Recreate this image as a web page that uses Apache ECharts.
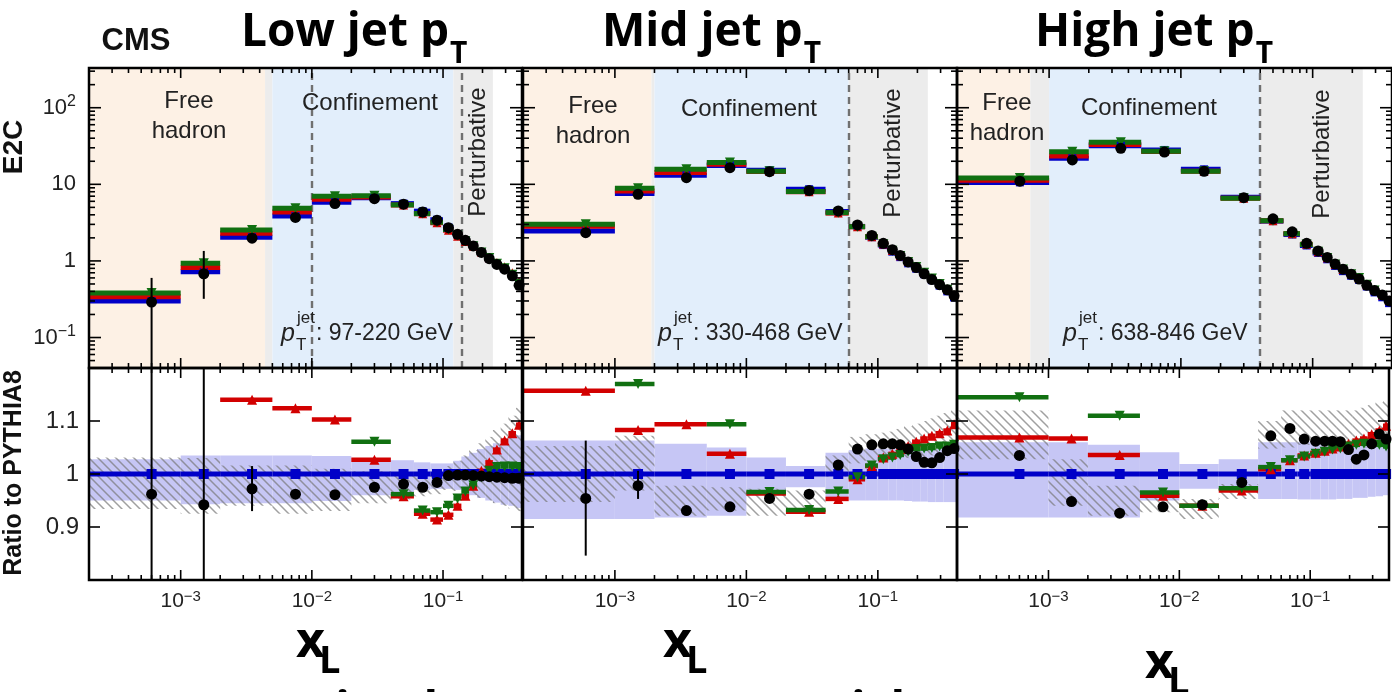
<!DOCTYPE html>
<html>
<head>
<meta charset="utf-8">
<script src="https://cdn.jsdelivr.net/npm/echarts@6.0.0/dist/echarts.min.js"></script>
<style>
html,body{margin:0;padding:0;background:#fff;}
#chart{width:1392px;height:692px;}
</style>
</head>
<body>
<div id="chart"></div>
<script>
// bin edges in x_L, shared by the three jet pT panels
var binEdges = [0.0002, 0.001, 0.002, 0.005, 0.01, 0.02, 0.04, 0.06, 0.08, 0.1, 0.12, 0.138, 0.158, 0.182, 0.21, 0.24, 0.275, 0.315, 0.36, 0.4];

// tick positions
var xMajorTicks = [0.001, 0.01, 0.1];
var xMinorTicks = [0.0003, 0.0004, 0.0005, 0.0006, 0.0007, 0.0008, 0.0009,
                   0.002, 0.003, 0.004, 0.005, 0.006, 0.007, 0.008, 0.009,
                   0.02, 0.03, 0.04, 0.05, 0.06, 0.07, 0.08, 0.09, 0.2, 0.3];
var yMajorTicks = [0.1, 1, 10, 100];
var yMinorTicks = [0.05, 0.06, 0.07, 0.08, 0.09, 0.2, 0.3, 0.4, 0.5, 0.6, 0.7, 0.8, 0.9,
                   2, 3, 4, 5, 6, 7, 8, 9, 20, 30, 40, 50, 60, 70, 80, 90, 200, 300];
var ratioTicks = [0.9, 1, 1.1];

// ---- Low jet pT (97-220 GeV)
var p1Data   = [0.29, 0.68, 1.98, 3.7, 5.6, 6.5, 5.5, 4.35, 3.4, 2.72, 2.23, 1.86, 1.57, 1.29, 1.07, 0.9, 0.78, 0.64, 0.48];
var p1Pythia = [0.30, 0.72, 2.04, 3.85, 5.83, 6.67, 5.6, 4.46, 3.45, 2.73, 2.24, 1.87, 1.58, 1.3, 1.08, 0.91, 0.79, 0.65, 0.49];
var p1Herwig = [0.34, 0.82, 2.3, 4.35, 6.4, 6.85, 5.37, 4.13, 3.15, 2.52, 2.1, 1.79, 1.55, 1.31, 1.1, 0.95, 0.84, 0.7, 0.54];
var p1Sherpa = [0.38, 0.93, 2.54, 4.86, 6.97, 7.1, 5.39, 4.15, 3.2, 2.57, 2.14, 1.81, 1.55, 1.29, 1.09, 0.92, 0.8, 0.66, 0.5];
var p1TopErrLo = [0.02, 0.32, null, null, null, null, null, null, null, null, null, null, null, null, null, null, null, null, null];
var p1TopErrHi = [0.6, 1.35, null, null, null, null, null, null, null, null, null, null, null, null, null, null, null, null, null];
var p1RatioData   = [0.962, 0.942, 0.972, 0.962, 0.961, 0.975, 0.981, 0.975, 0.984, 0.997, 0.998, 0.998, 0.997, 0.996, 0.995, 0.994, 0.993, 0.992, 0.992];
var p1RatioHerwig = [null, null, 1.140, 1.124, 1.103, 1.027, 0.958, 0.925, 0.914, 0.923, 0.940, 0.959, 0.978, 1.006, 1.022, 1.046, 1.063, 1.077, 1.093];
var p1RatioSherpa = [null, null, null, null, null, 1.061, 0.962, 0.931, 0.928, 0.940, 0.954, 0.967, 0.979, 0.994, 1.006, 1.013, 1.014, 1.014, 1.013];
var p1RatioErrLo = [0.7, 0.7, 0.93, null, null, null, null, null, null, null, null, null, null, null, null, null, null, null, null];
var p1RatioErrHi = [1.3, 1.3, 1.015, null, null, null, null, null, null, null, null, null, null, null, null, null, null, null, null];
var p1BandLo  = [0.950, 0.943, 0.945, 0.945, 0.949, 0.960, 0.966, 0.970, 0.972, 0.972, 0.970, 0.965, 0.960, 0.955, 0.950, 0.946, 0.942, 0.940, 0.936];
var p1BandHi  = [1.028, 1.035, 1.035, 1.035, 1.034, 1.030, 1.026, 1.022, 1.020, 1.020, 1.025, 1.033, 1.040, 1.047, 1.053, 1.058, 1.063, 1.068, 1.073];
var p1HatchLo = [0.934, 0.925, 0.940, 0.925, 0.930, 0.945, 0.952, 0.958, 0.962, 0.970, 0.968, 0.964, 0.960, 0.955, 0.950, 0.945, 0.940, 0.935, 0.930];
var p1HatchHi = [1.031, 1.030, 1.016, 1.016, 1.010, 1.005, 1.003, 1.002, 1.006, 1.015, 1.025, 1.035, 1.045, 1.058, 1.070, 1.083, 1.095, 1.110, 1.125];

// ---- Mid jet pT (330-468 GeV)
var p2Data   = [2.34, 7.4, 12.2, 16.5, 14.6, 8.3, 4.5, 2.95, 2.15, 1.7, 1.4, 1.18, 0.97, 0.82, 0.68, 0.57, 0.49, 0.42, 0.35];
var p2Pythia = [2.45, 7.57, 13.1, 17.6, 15.3, 8.63, 4.42, 2.82, 2.04, 1.61, 1.32, 1.12, 0.93, 0.79, 0.67, 0.56, 0.475, 0.40, 0.334];
var p2Herwig = [2.83, 8.2, 14.3, 18.3, 14.7, 8.02, 4.21, 2.79, 2.07, 1.66, 1.37, 1.17, 0.98, 0.84, 0.71, 0.6, 0.51, 0.43, 0.365];
var p2Sherpa = [3.01, 8.86, 15.7, 19.2, 14.8, 8.04, 4.27, 2.8, 2.07, 1.65, 1.36, 1.16, 0.97, 0.83, 0.7, 0.59, 0.5, 0.42, 0.35];
var p2TopErrLo = [null, null, null, null, null, null, null, null, null, null, null, null, null, null, null, null, null, null, null];
var p2TopErrHi = [null, null, null, null, null, null, null, null, null, null, null, null, null, null, null, null, null, null, null];
var p2RatioData   = [0.954, 0.978, 0.931, 0.938, 0.954, 0.962, 1.017, 1.047, 1.055, 1.057, 1.057, 1.055, 1.047, 1.033, 1.022, 1.021, 1.031, 1.044, 1.048];
var p2RatioHerwig = [1.157, 1.083, 1.094, 1.038, 0.963, 0.929, 0.953, 0.990, 1.015, 1.031, 1.038, 1.047, 1.053, 1.061, 1.067, 1.072, 1.077, 1.082, 1.094];
var p2RatioSherpa = [null, 1.170, null, 1.094, 0.966, 0.932, 0.967, 0.994, 1.016, 1.028, 1.031, 1.036, 1.042, 1.047, 1.048, 1.049, 1.052, 1.052, 1.055];
var p2RatioErrLo = [0.846, 0.953, null, null, null, null, null, null, null, null, null, null, null, null, null, null, null, null, null];
var p2RatioErrHi = [1.063, 1.006, null, null, null, null, null, null, null, null, null, null, null, null, null, null, null, null, null];
var p2BandLo  = [0.915, 0.915, 0.918, 0.921, 0.960, 0.975, 0.955, 0.950, 0.950, 0.950, 0.950, 0.950, 0.949, 0.948, 0.948, 0.947, 0.947, 0.947, 0.947];
var p2BandHi  = [1.063, 1.063, 1.057, 1.050, 1.031, 1.015, 1.040, 1.045, 1.048, 1.048, 1.048, 1.048, 1.048, 1.048, 1.048, 1.048, 1.048, 1.048, 1.048];
var p2HatchLo = [0.947, 0.969, 0.921, 0.931, 0.921, 0.928, 0.995, 1.020, 1.025, 1.028, 1.030, 1.030, 1.030, 1.030, 1.030, 1.035, 1.040, 1.045, 1.047];
var p2HatchHi = [1.053, 1.072, 0.978, 0.975, 0.972, 0.969, 1.035, 1.070, 1.075, 1.078, 1.080, 1.085, 1.090, 1.095, 1.100, 1.105, 1.110, 1.115, 1.120];

// ---- High jet pT (638-846 GeV)
var p3Data   = [11.0, 20.8, 29.5, 26.4, 14.8, 6.7, 3.55, 2.4, 1.7, 1.35, 1.11, 0.91, 0.78, 0.67, 0.58, 0.48, 0.41, 0.36, 0.3];
var p3Pythia = [10.6, 21.9, 31.9, 28.1, 15.7, 6.8, 3.31, 2.21, 1.59, 1.27, 1.05, 0.86, 0.735, 0.64, 0.564, 0.463, 0.388, 0.335, 0.281];
var p3Herwig = [11.3, 23.4, 33.0, 26.9, 14.8, 6.6, 3.34, 2.27, 1.65, 1.32, 1.1, 0.9, 0.77, 0.68, 0.6, 0.49, 0.42, 0.36, 0.31];
var p3Sherpa = [12.1, 26.7, 35.4, 27.1, 14.8, 6.6, 3.35, 2.27, 1.64, 1.32, 1.09, 0.9, 0.77, 0.67, 0.6, 0.49, 0.41, 0.35, 0.3];
var p3TopErrLo = [null, null, null, null, null, null, null, null, null, null, null, null, null, null, null, null, null, null, null];
var p3TopErrHi = [null, null, null, null, null, null, null, null, null, null, null, null, null, null, null, null, null, null, null];
var p3RatioData   = [1.035, 0.948, 0.926, 0.938, 0.942, 0.984, 1.072, 1.086, 1.066, 1.062, 1.062, 1.062, 1.061, 1.046, 1.028, 1.036, 1.057, 1.075, 1.066];
var p3RatioHerwig = [1.069, 1.067, 1.036, 0.959, 0.940, 0.969, 1.009, 1.026, 1.035, 1.040, 1.044, 1.048, 1.052, 1.057, 1.063, 1.067, 1.075, 1.082, 1.091];
var p3RatioSherpa = [1.145, null, 1.110, 0.965, 0.940, 0.973, 1.013, 1.026, 1.033, 1.038, 1.042, 1.046, 1.048, 1.052, 1.055, 1.057, 1.055, 1.055, 1.052];
var p3RatioErrLo = [null, null, null, null, null, null, null, null, null, null, null, null, null, null, null, null, null, null, null];
var p3RatioErrHi = [null, null, null, null, null, null, null, null, null, null, null, null, null, null, null, null, null, null, null];
var p3BandLo  = [0.918, 0.918, 0.918, 0.950, 0.972, 0.969, 0.953, 0.953, 0.952, 0.952, 0.952, 0.952, 0.953, 0.953, 0.955, 0.955, 0.957, 0.958, 0.960];
var p3BandHi  = [1.060, 1.060, 1.055, 1.041, 1.019, 1.028, 1.060, 1.060, 1.060, 1.060, 1.060, 1.060, 1.060, 1.060, 1.060, 1.060, 1.060, 1.060, 1.060];
var p3HatchLo = [1.028, 0.940, 0.921, 0.928, 0.915, 0.953, 1.048, 1.050, 1.055, 1.058, 1.058, 1.058, 1.058, 1.055, 1.050, 1.050, 1.055, 1.060, 1.060];
var p3HatchHi = [1.120, 1.028, 0.978, 0.959, 0.953, 0.981, 1.100, 1.120, 1.120, 1.120, 1.120, 1.120, 1.120, 1.120, 1.120, 1.125, 1.130, 1.135, 1.140];

// PYTHIA8 / PYTHIA8
var pythiaRatio = [1, 1, 1, 1, 1, 1, 1, 1, 1, 1, 1, 1, 1, 1, 1, 1, 1, 1, 1];

// region boundaries: [free hadron end, 1st cut, confinement end, 2nd cut, perturbative end]
var p1Regions = [0.0044, 0.005, 0.12, 0.138, 0.24];
var p2Regions = [0.0019, 0.002, 0.06, 0.06, 0.24];
var p3Regions = [0.00072, 0.001, 0.04, 0.04, 0.24];

var panelTitles = ['Low jet p', 'Mid jet p', 'High jet p'];
var ptRanges = [': 97-220 GeV', ': 330-468 GeV', ': 638-846 GeV'];

var panels = [
  {data: p1Data, pythia: p1Pythia, herwig: p1Herwig, sherpa: p1Sherpa, errLo: p1TopErrLo, errHi: p1TopErrHi,
   rData: p1RatioData, rHerwig: p1RatioHerwig, rSherpa: p1RatioSherpa, rErrLo: p1RatioErrLo, rErrHi: p1RatioErrHi,
   bandLo: p1BandLo, bandHi: p1BandHi, hatchLo: p1HatchLo, hatchHi: p1HatchHi, regions: p1Regions},
  {data: p2Data, pythia: p2Pythia, herwig: p2Herwig, sherpa: p2Sherpa, errLo: p2TopErrLo, errHi: p2TopErrHi,
   rData: p2RatioData, rHerwig: p2RatioHerwig, rSherpa: p2RatioSherpa, rErrLo: p2RatioErrLo, rErrHi: p2RatioErrHi,
   bandLo: p2BandLo, bandHi: p2BandHi, hatchLo: p2HatchLo, hatchHi: p2HatchHi, regions: p2Regions},
  {data: p3Data, pythia: p3Pythia, herwig: p3Herwig, sherpa: p3Sherpa, errLo: p3TopErrLo, errHi: p3TopErrHi,
   rData: p3RatioData, rHerwig: p3RatioHerwig, rSherpa: p3RatioSherpa, rErrLo: p3RatioErrLo, rErrHi: p3RatioErrHi,
   bandLo: p3BandLo, bandHi: p3BandHi, hatchLo: p3HatchLo, hatchHi: p3HatchHi, regions: p3Regions}
];

// layout
var panelLeft = [89, 523, 957];
var panelWidth = [433, 434, 436];
var BLUE = '#0000c8', RED = '#d20000', GREEN = '#117011';
var PEACH = '#fdf1e5', CONF = '#e2eefb', GREY = '#ececec', LAVENDER = '#c6c6f5';
var SANS = '"Liberation Sans", Arial, sans-serif';
var OPEN = '"Open Sans", sans-serif';

// hatch pattern for the data uncertainty
var hatch = document.createElement('canvas');
hatch.width = 9; hatch.height = 9;
var hc = hatch.getContext('2d');
hc.strokeStyle = 'rgba(120,120,120,0.7)';
hc.lineWidth = 1.5;
hc.beginPath();
hc.moveTo(-2, -2); hc.lineTo(11, 11);
hc.moveTo(-2, 7); hc.lineTo(2, 11);
hc.moveTo(7, -2); hc.lineTo(11, 2);
hc.stroke();
var hatchFill = {image: hatch, repeat: 'repeat'};

function mid(i) { return (binEdges[i] + binEdges[i + 1]) / 2; }

function powLabel(v) {
  var e = Math.log10(v), r = Math.round(e);
  if (Math.abs(e - r) > 0.01) return '';
  if (r === 0) return '{b|1}';
  if (r === 1) return '{b|10}';
  return '{b|10}{s|' + (r < 0 ? '\u2212' : '') + Math.abs(r) + '}';
}

function hBars(vals, color, thick, gi, z) {
  var d = [];
  vals.forEach(function (v, i) { if (v != null) d.push([binEdges[i], binEdges[i + 1], v]); });
  return {
    type: 'custom', xAxisIndex: gi, yAxisIndex: gi, z: z, silent: true, data: d,
    encode: {x: [0, 1], y: 2},
    renderItem: function (params, api) {
      var a = api.coord([api.value(0), api.value(2)]);
      var b = api.coord([api.value(1), api.value(2)]);
      return {type: 'rect', shape: {x: a[0], y: a[1] - thick / 2, width: b[0] - a[0], height: thick}, style: {fill: color}};
    }
  };
}

function bands(lo, hi, fill, gi, z) {
  var d = lo.map(function (l, i) { return [binEdges[i], binEdges[i + 1], l, hi[i]]; });
  return {
    type: 'custom', xAxisIndex: gi, yAxisIndex: gi, z: z, silent: true, data: d,
    encode: {x: [0, 1], y: [2, 3]},
    renderItem: function (params, api) {
      var a = api.coord([api.value(0), api.value(3)]);
      var b = api.coord([api.value(1), api.value(2)]);
      return {type: 'rect', shape: {x: a[0], y: a[1], width: b[0] - a[0], height: b[1] - a[1]}, style: {fill: fill}};
    }
  };
}

function errBars(lo, hi, gi, z) {
  var d = [];
  lo.forEach(function (l, i) { if (l != null) d.push([mid(i), l, hi[i]]); });
  return {
    type: 'custom', xAxisIndex: gi, yAxisIndex: gi, z: z, silent: true, data: d,
    encode: {x: 0, y: [1, 2]},
    renderItem: function (params, api) {
      var cs = params.coordSys;
      var a = api.coord([api.value(0), api.value(2)]);
      var b = api.coord([api.value(0), api.value(1)]);
      var y1 = Math.max(cs.y, a[1]), y2 = Math.min(cs.y + cs.height, b[1]);
      return {type: 'line', shape: {x1: a[0], y1: y1, x2: a[0], y2: y2}, style: {stroke: '#000', lineWidth: 2}};
    }
  };
}

function markers(vals, symbol, size, color, gi, z, rot) {
  var d = [];
  vals.forEach(function (v, i) { if (v != null) d.push([mid(i), v]); });
  return {
    type: 'scatter', xAxisIndex: gi, yAxisIndex: gi, z: z, silent: true,
    symbol: symbol, symbolSize: size, symbolRotate: rot || 0,
    itemStyle: {color: color, opacity: 1}, data: d
  };
}

function regionSeries(gi, r) {
  return {
    type: 'line', xAxisIndex: gi, yAxisIndex: gi, z: 0, silent: true, data: [],
    markArea: {
      silent: true, z: 0,
      data: [
        [{xAxis: binEdges[0], itemStyle: {color: PEACH}}, {xAxis: r[0]}],
        [{xAxis: r[0], itemStyle: {color: GREY}}, {xAxis: r[1]}],
        [{xAxis: r[1], itemStyle: {color: CONF}}, {xAxis: r[2]}],
        [{xAxis: r[2], itemStyle: {color: GREY}}, {xAxis: r[4]}]
      ]
    },
    markLine: {
      silent: true, z: 1, symbol: ['none', 'none'], label: {show: false},
      lineStyle: {color: '#707070', type: [7, 5], width: 2.4},
      data: [{xAxis: r[1]}, {xAxis: r[3]}]
    }
  };
}

function frameSeries(gi, isTop) {
  return {
    type: 'custom', xAxisIndex: gi, yAxisIndex: gi, z: 10, silent: true, data: [[0.01, 1]],
    renderItem: function (params, api) {
      var cs = params.coordSys, kids = [];
      function ln(x1, y1, x2, y2) {
        kids.push({type: 'line', shape: {x1: x1, y1: y1, x2: x2, y2: y2}, style: {stroke: '#000', lineWidth: 1.6}});
      }
      function xt(v, len) {
        var px = api.coord([v, 1])[0];
        ln(px, cs.y, px, cs.y + len);
        ln(px, cs.y + cs.height, px, cs.y + cs.height - len);
      }
      function yt(v, len) {
        var py = api.coord([0.01, v])[1];
        ln(cs.x, py, cs.x + len, py);
        ln(cs.x + cs.width, py, cs.x + cs.width - len, py);
      }
      xMajorTicks.forEach(function (v) { xt(v, 10); });
      xMinorTicks.forEach(function (v) { xt(v, 5); });
      if (isTop) {
        yMajorTicks.forEach(function (v) { yt(v, 12); });
        yMinorTicks.forEach(function (v) { yt(v, 6); });
      } else {
        ratioTicks.forEach(function (v) { yt(v, 11); });
      }
      kids.push({type: 'rect', shape: {x: cs.x, y: cs.y, width: cs.width, height: cs.height},
                 style: {fill: 'none', stroke: '#000', lineWidth: 2.5}});
      return {type: 'group', children: kids};
    }
  };
}

var grids = [], xAxes = [], yAxes = [], series = [];
for (var p = 0; p < 3; p++) {
  var P = panels[p];
  var gTop = 2 * p, gRat = 2 * p + 1;
  grids.push({left: panelLeft[p], top: 68, width: panelWidth[p], height: 300});
  grids.push({left: panelLeft[p], top: 368, width: panelWidth[p], height: 212});

  [gTop, gRat].forEach(function (gi) {
    xAxes.push({
      type: 'log', logBase: 10, gridIndex: gi, min: 0.0002, max: 0.4,
      axisLine: {show: false}, axisTick: {show: false}, splitLine: {show: false},
      axisLabel: {
        show: gi % 2 === 1, margin: 9, formatter: powLabel,
        rich: {
          b: {fontSize: 21, fontFamily: SANS, color: '#222'},
          s: {fontSize: 15, fontFamily: SANS, color: '#222', padding: [0, 0, 10, 0]}
        }
      }
    });
  });
  yAxes.push({
    type: 'log', logBase: 10, gridIndex: gTop, min: 0.04, max: 330,
    axisLine: {show: false}, axisTick: {show: false}, splitLine: {show: false},
    axisLabel: {
      show: p === 0, margin: 13, formatter: powLabel,
      rich: {
        b: {fontSize: 22, fontFamily: SANS, color: '#222'},
        s: {fontSize: 16, fontFamily: SANS, color: '#222', padding: [0, 0, 12, 0]}
      }
    }
  });
  yAxes.push({
    type: 'value', gridIndex: gRat, min: 0.8, max: 1.2, interval: 0.1,
    axisLine: {show: false}, axisTick: {show: false}, splitLine: {show: false},
    axisLabel: {
      show: p === 0, margin: 10, fontSize: 24, fontFamily: SANS, color: '#222',
      formatter: function (v) { return (v > 0.85 && v < 1.15) ? String(+v.toFixed(1)) : ''; }
    }
  });

  // upper panel: E2C
  series.push(regionSeries(gTop, P.regions));
  series.push(hBars(P.pythia, BLUE, 5, gTop, 2));
  series.push(hBars(P.herwig, RED, 5, gTop, 2));
  series.push(hBars(P.sherpa, GREEN, 5, gTop, 2));
  series.push(markers(P.pythia, 'rect', 8, BLUE, gTop, 3));
  series.push(markers(P.herwig, 'triangle', 9, RED, gTop, 3));
  series.push(markers(P.sherpa, 'triangle', 10, GREEN, gTop, 3, 180));
  series.push(errBars(P.errLo, P.errHi, gTop, 4));
  series.push(markers(P.data, 'circle', 11, '#000', gTop, 5));
  series.push(frameSeries(gTop, true));

  // lower panel: ratio to PYTHIA8
  series.push(bands(P.bandLo, P.bandHi, LAVENDER, gRat, 1));
  series.push(bands(P.hatchLo, P.hatchHi, hatchFill, gRat, 1));
  series.push(hBars(pythiaRatio, BLUE, 5, gRat, 2));
  series.push(hBars(P.rHerwig, RED, 4.5, gRat, 2));
  series.push(hBars(P.rSherpa, GREEN, 4.5, gRat, 2));
  series.push(markers(pythiaRatio, 'rect', 10, BLUE, gRat, 3));
  series.push(markers(P.rHerwig, 'triangle', 10, RED, gRat, 3));
  series.push(markers(P.rSherpa, 'triangle', 10, GREEN, gRat, 3, 180));
  series.push(errBars(P.rErrLo, P.rErrHi, gRat, 4));
  series.push(markers(P.rData, 'circle', 11, '#000', gRat, 5));
  series.push(frameSeries(gRat, false));
}

// texts
var graphics = [];
function addText(x, y, text, font, align, rot, color) {
  graphics.push({
    type: 'text', x: x, y: y, rotation: rot || 0, silent: true, z: 100,
    style: {text: text, font: font, fill: color || '#111',
            align: align, verticalAlign: 'middle', textAlign: align, textVerticalAlign: 'middle'}
  });
}
var measure = document.createElement('canvas').getContext('2d');
var titleFont = 'bold 46px ' + OPEN;
measure.font = titleFont;
var titleX = [241, 602, 1035];
for (var i = 0; i < 3; i++) {
  addText(titleX[i], 33, panelTitles[i], titleFont, 'left', 0, '#000');
  addText(titleX[i] + measure.measureText(panelTitles[i]).width + 1, 54, 'T', 'bold 30px ' + OPEN, 'left', 0, '#000');
}
addText(136, 41, 'CMS', 'bold 31px ' + SANS, 'center');
addText(14, 147, 'E2C', 'bold 28px ' + SANS, 'center', Math.PI / 2);
addText(14, 473, 'Ratio to PYTHIA8', 'bold 25px ' + SANS, 'center', Math.PI / 2);

// region labels
var freeX = [189, 593, 1007], freeY = [101, 106, 103];
var confX = [370, 749, 1149], confY = [103, 109, 108];
var pertX = [478, 893, 1322], pertY = [152, 153, 154];
var ptX = [281, 658, 1063];
for (i = 0; i < 3; i++) {
  addText(freeX[i], freeY[i], 'Free', '24px ' + SANS, 'center', 0, '#222');
  addText(freeX[i], freeY[i] + 30, 'hadron', '24px ' + SANS, 'center', 0, '#222');
  addText(confX[i], confY[i], 'Confinement', '24px ' + SANS, 'center', 0, '#222');
  addText(pertX[i], pertY[i], 'Perturbative', '24px ' + SANS, 'center', Math.PI / 2, '#222');
  addText(ptX[i], 334, 'p', 'italic 25px ' + SANS, 'left', 0, '#222');
  addText(ptX[i] + 16, 318, 'jet', '17px ' + SANS, 'left', 0, '#222');
  addText(ptX[i] + 15, 345, 'T', '17px ' + SANS, 'left', 0, '#222');
  addText(ptX[i] + 35, 334, ptRanges[i], '23px ' + SANS, 'left', 0, '#222');
}

// x_L axis titles
var xlX = [296, 663, 1145], xlY = [643, 643, 664];
for (i = 0; i < 3; i++) {
  addText(xlX[i], xlY[i], 'x', 'bold 50px ' + OPEN, 'left', 0, '#000');
  addText(xlX[i] + 23, xlY[i] + 19, 'L', 'bold 38px ' + OPEN, 'left', 0, '#000');
}
addText(152, 712, 'separation between two particles', 'bold 48px ' + OPEN, 'left', 0, '#000');

var chart = echarts.init(document.getElementById('chart'), null, {renderer: 'canvas'});
chart.setOption({
  animation: false,
  backgroundColor: '#fff',
  textStyle: {fontFamily: SANS},
  grid: grids,
  xAxis: xAxes,
  yAxis: yAxes,
  series: series,
  graphic: graphics
});
</script>
</body>
</html>
